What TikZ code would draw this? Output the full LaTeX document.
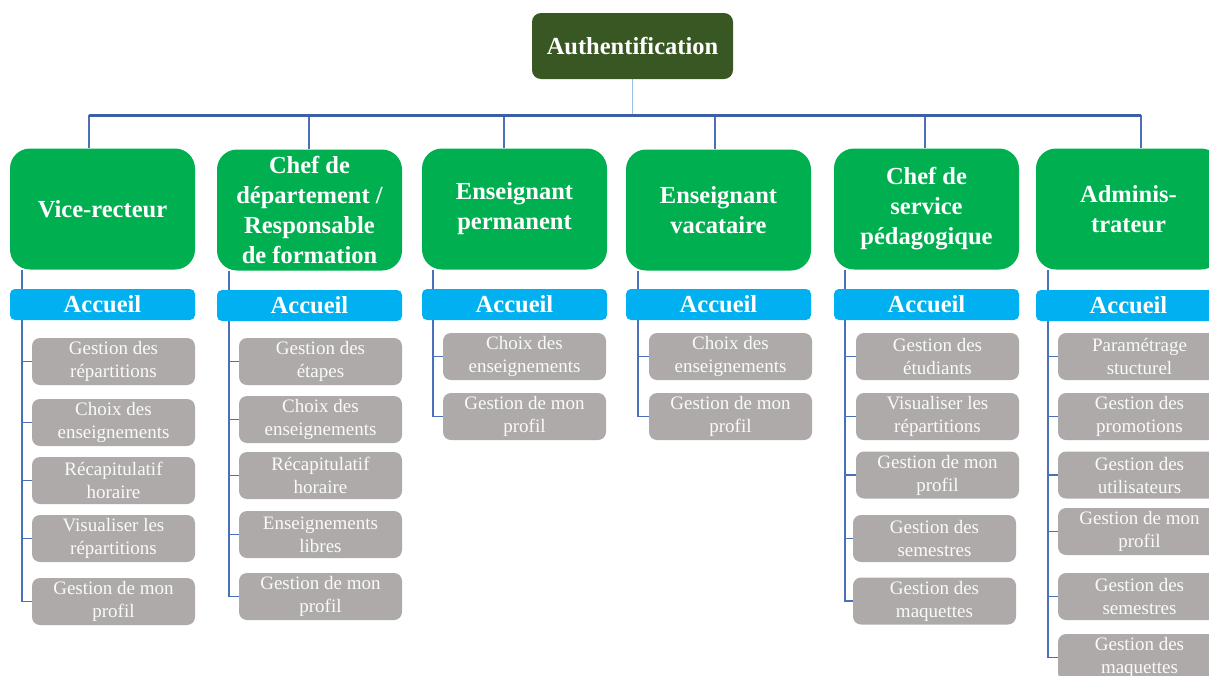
\documentclass[tikz,border=0pt]{standalone}
\usepackage{fontspec}
\setmainfont{Liberation Serif}
\usetikzlibrary{backgrounds}

\definecolor{authgreen}{HTML}{385723}
\definecolor{rolegreen}{HTML}{00B050}
\definecolor{homeblue}{HTML}{00B0F0}
\definecolor{taskgray}{HTML}{AEAAAA}
\definecolor{busblue}{HTML}{3F5FA5}
\definecolor{linkblue}{HTML}{4A70BA}
\definecolor{stemblue}{HTML}{9DC3E6}

\tikzstyle{root}=[rectangle, rounded corners=9pt, fill=authgreen, text=white, inner sep=0pt,
  minimum width=201pt, minimum height=66pt, font=\bfseries\fontsize{24.5}{30}\selectfont]
\tikzstyle{role}=[rectangle, rounded corners=20pt, fill=rolegreen, text=white, inner sep=0pt, align=center,
  minimum width=185pt, minimum height=121pt, font=\bfseries\fontsize{24.5}{30}\selectfont]
\tikzstyle{home}=[rectangle, rounded corners=5pt, fill=homeblue, text=white, inner sep=0pt,
  minimum width=185pt, minimum height=31pt, font=\bfseries\fontsize{24.5}{30}\selectfont]
\tikzstyle{task}=[rectangle, rounded corners=8pt, fill=taskgray, text=white!96!gray, inner sep=0pt, align=center,
  minimum width=163pt, minimum height=47pt, font=\fontsize{19}{23}\selectfont]
\tikzstyle{bus}=[busblue, line width=3pt]
\tikzstyle{drop}=[linkblue, line width=1.5pt]
\tikzstyle{stem}=[stemblue, line width=1pt]
\tikzstyle{link}=[linkblue, line width=1.5pt]

\begin{document}
\begin{tikzpicture}[x=1pt, y=-1pt]
      \useasboundingbox (0,0) rectangle (1209,675);
      \clip (0,0) rectangle (1209,675);

      \node[root] (auth) at (632.5, 46) {Authentification};

      % roles
      \node[role] (vr) at (102.5, 209) {Vice-recteur};
      \node[role] (cd) at (309.5, 210) {Chef de\\département /\\Responsable\\de formation};
      \node[role] (ep) at (514.5, 209) {Enseignant\\permanent};
      \node[role] (ev) at (718.5, 210) {Enseignant\\vacataire};
      \node[role] (cs) at (926.5, 209) {Chef de\\service\\pédagogique};
      \node[role] (ad) at (1128.5, 209) {Adminis-\\trateur};

      \node[home] (vracc) at (102.5, 304.5) {Accueil};
      \node[home] (cdacc) at (309.5, 305.5) {Accueil};
      \node[home] (epacc) at (514.5, 304.5) {Accueil};
      \node[home] (evacc) at (718.5, 304.5) {Accueil};
      \node[home] (csacc) at (926.5, 304.5) {Accueil};
      \node[home] (adacc) at (1128.5, 305.5) {Accueil};

      % Vice-recteur
      \node[task] (vr1) at (113.5, 361.5) {Gestion des\\répartitions};
      \node[task] (vr2) at (113.5, 422.5) {Choix des\\enseignements};
      \node[task] (vr3) at (113.5, 480.5) {Récapitulatif\\horaire};
      \node[task] (vr4) at (113.5, 538.5) {Visualiser les\\répartitions};
      \node[task] (vr5) at (113.5, 601.5) {Gestion de mon\\profil};

      % chef de departement
      \node[task] (cd1) at (320.5, 361.5) {Gestion des\\étapes};
      \node[task] (cd2) at (320.5, 419.5) {Choix des\\enseignements};
      \node[task] (cd3) at (320.5, 475.5) {Récapitulatif\\horaire};
      \node[task] (cd4) at (320.5, 534.5) {Enseignements\\libres};
      \node[task] (cd5) at (320.5, 596.5) {Gestion de mon\\profil};

      % enseignants
      \node[task] (ep1) at (524.5, 356.5) {Choix des\\enseignements};
      \node[task] (ep2) at (524.5, 416.5) {Gestion de mon\\profil};
      \node[task] (ev1) at (730.5, 356.5) {Choix des\\enseignements};
      \node[task] (ev2) at (730.5, 416.5) {Gestion de mon\\profil};

      % chef de service
      \node[task] (cs1) at (937.5, 356.5) {Gestion des\\étudiants};
      \node[task] (cs2) at (937.5, 416.5) {Visualiser les\\répartitions};
      \node[task] (cs3) at (937.5, 475) {Gestion de mon\\profil};
      \node[task] (cs4) at (934.5, 538.5) {Gestion des\\semestres};
      \node[task] (cs5) at (934.5, 601) {Gestion des\\maquettes};

      % administrateur
      \node[task] (ad1) at (1139.5, 356.5) {Paramétrage\\stucturel};
      \node[task] (ad2) at (1139.5, 416.5) {Gestion des\\promotions};
      \node[task] (ad3) at (1139.5, 475) {Gestion des\\utilisateurs};
      \node[task] (ad4) at (1139.5, 531.5) {Gestion de mon\\profil};
      \node[task] (ad5) at (1139.5, 596.5) {Gestion des\\semestres};
      \node[task] (ad6) at (1139.5, 657.5) {Gestion des\\maquettes};

      \begin{pgfonlayer}{background}
      \coordinate (d1) at (89, 115);
      \coordinate (d2) at (309, 115);
      \coordinate (d3) at (504, 115);
      \coordinate (d4) at (715, 115);
      \coordinate (d5) at (925, 115);
      \coordinate (d6) at (1141, 115);

      \draw[stem] (auth.south) -- (auth.south |- d1);
      \draw[drop] (d1) -- (d1 |- vr.north);
      \draw[drop] (d2) -- (d2 |- cd.north);
      \draw[drop] (d3) -- (d3 |- ep.north);
      \draw[drop] (d4) -- (d4 |- ev.north);
      \draw[drop] (d5) -- (d5 |- cs.north);
      \draw[drop] (d6) -- (d6 |- ad.north);
      \draw[bus] (d1) -- (d6);

      \coordinate (vrl) at ([xshift=12pt]vr.south west);
      \coordinate (cdl) at ([xshift=12pt]cd.south west);
      \coordinate (epl) at ([xshift=11pt]ep.south west);
      \coordinate (evl) at ([xshift=12pt]ev.south west);
      \coordinate (csl) at ([xshift=11pt]cs.south west);
      \coordinate (adl) at ([xshift=12pt]ad.south west);

      \draw[link] (vrl) |- (vr5.west) (vrl |- vr1.west) -- (vr1.west) (vrl |- vr2.west) -- (vr2.west)
        (vrl |- vr3.west) -- (vr3.west) (vrl |- vr4.west) -- (vr4.west);
      \draw[link] (cdl) |- (cd5.west) (cdl |- cd1.west) -- (cd1.west) (cdl |- cd2.west) -- (cd2.west)
        (cdl |- cd3.west) -- (cd3.west) (cdl |- cd4.west) -- (cd4.west);
      \draw[link] (epl) |- (ep2.west) (epl |- ep1.west) -- (ep1.west);
      \draw[link] (evl) |- (ev2.west) (evl |- ev1.west) -- (ev1.west);
      \draw[link] (csl) |- (cs5.west) (csl |- cs1.west) -- (cs1.west) (csl |- cs2.west) -- (cs2.west)
        (csl |- cs3.west) -- (cs3.west) (csl |- cs4.west) -- (cs4.west);
      \draw[link] (adl) |- (ad6.west) (adl |- ad1.west) -- (ad1.west) (adl |- ad2.west) -- (ad2.west)
        (adl |- ad3.west) -- (ad3.west) (adl |- ad4.west) -- (ad4.west) (adl |- ad5.west) -- (ad5.west);
      \end{pgfonlayer}
    \end{tikzpicture}
\end{document}
